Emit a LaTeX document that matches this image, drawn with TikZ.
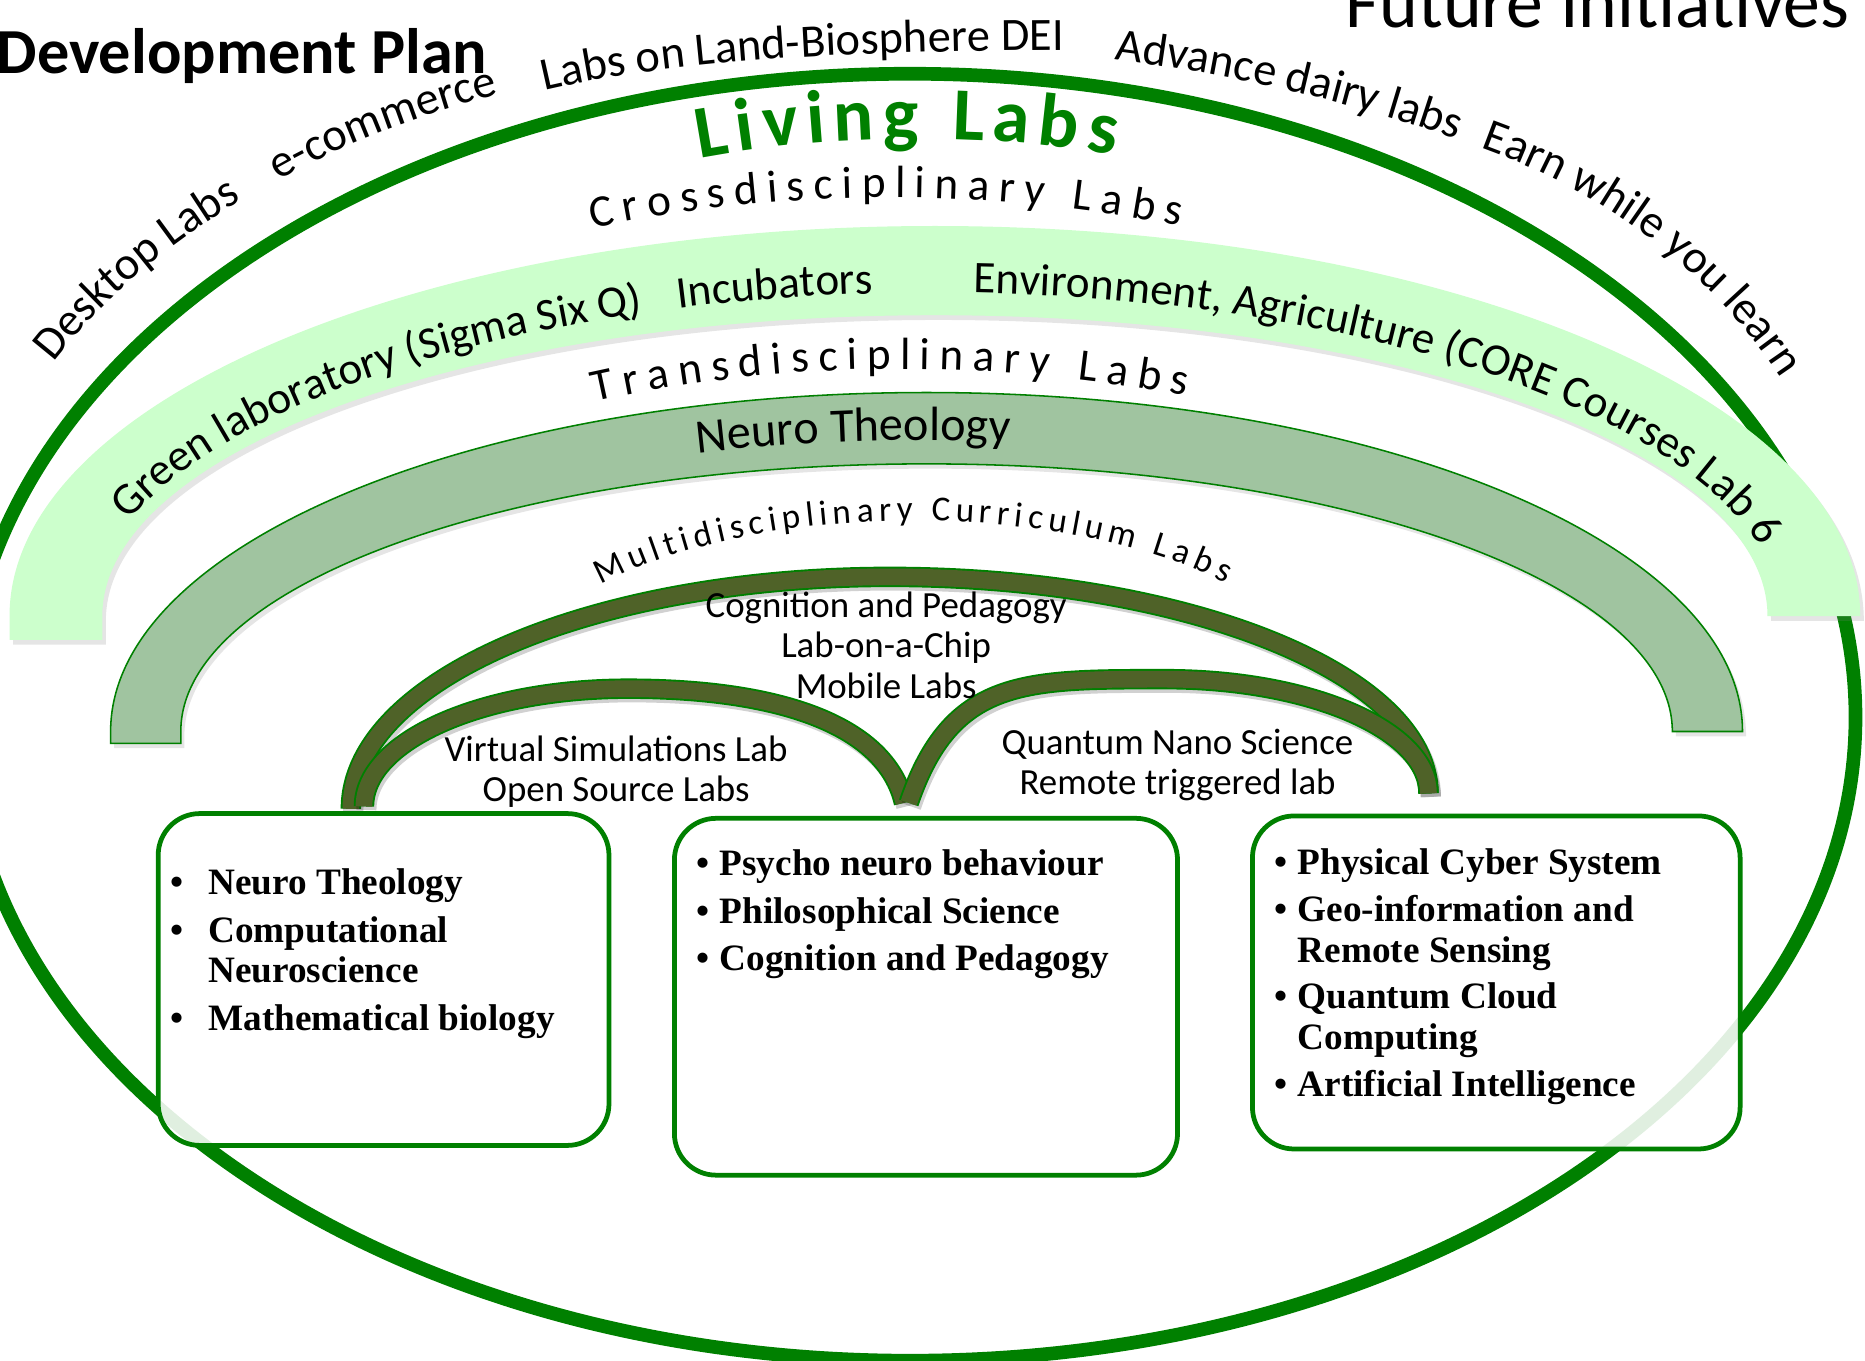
\documentclass[tikz,border=0pt]{standalone}
\usepackage{fontspec}
\setmainfont{Carlito}
\newfontfamily\tnrfont{Liberation Serif}
\usetikzlibrary{decorations.text,shadows}
\definecolor{dkgreen}{HTML}{008000}
\definecolor{lband}{HTML}{CCFFCC}
\definecolor{mband}{HTML}{A0C4A0}
\definecolor{olivearch}{HTML}{4F6228}
\newcommand\fTitle{\fontsize{54}{60}\selectfont\bfseries}
\newcommand\fBig{\fontsize{62}{70}\selectfont}
\newcommand\fOut{\fontsize{39}{44}\selectfont}
\newcommand\fBand{\fontsize{38}{44}\selectfont}
\newcommand\fNeuro{\fontsize{40.5}{44}\selectfont}
\newcommand\fLiving{\fontsize{63}{70}\selectfont\bfseries\color{dkgreen}}
\newcommand\fMulti{\fontsize{29.5}{34}\selectfont}
\newcommand\fIn{\fontsize{31}{34}\selectfont}
\newcommand\fBoxt{\tnrfont\bfseries\fontsize{31.3}{34}\selectfont}
\begin{document}
\begin{tikzpicture}[x=1pt,y=-1pt,
  pathtext/.style={decorate,decoration={text along path,text={#1}}},
  spacedtext/.style={decorate,decoration={text along path,text={#1},text align={fit to path}}},
  archline/.style={draw=dkgreen,line width=1.6pt,double=olivearch,double distance=14pt,
    preaction={draw=black,opacity=0.18,line width=17pt,transform canvas={xshift=2pt,yshift=-3pt}}},
  labbox/.style={draw=dkgreen,line width=4pt,rounded corners=35pt,fill=white,fill opacity=0.88,inner sep=0pt},
  boxtext/.style={inner sep=0pt,anchor=base west,font=\fBoxt},
  intext/.style={inner sep=0pt,anchor=base,font=\fIn},
  bandshadow/.style={drop shadow={shadow xshift=3pt,shadow yshift=-4pt,opacity=0.2}}]
\useasboundingbox (0,0) rectangle (1568,1144);
\fill[white] (0,0) rectangle (1568,1144);

% titles
\node[anchor=base west,inner sep=0pt,font=\fTitle] (title) at (-3,62) {Development Plan};
\node[anchor=base east,inner sep=0pt,font=\fBig] (future) at (1555,23) {Future Initiatives};

% outer ellipse
\draw[dkgreen,line width=11.5pt] (765,603) ellipse [x radius=795,y radius=541];

% texts outside the ellipse
\path[pathtext={|\fOut|Desktop Labs}] (45,305) .. controls (88,250) and (140,205) .. (220,158);
\path[pathtext={|\fOut|e-commerce}] (234,152) .. controls (290,120) and (350,97) .. (435,75);
\path[pathtext={|\fOut|Labs on Land-Biosphere DEI}] (458,76) .. controls (560,52) and (700,42) .. (930,42);
\path[pathtext={|\fOut|Advance dairy labs}] (937,50) .. controls (1030,62) and (1130,82) .. (1250,126);
\path[pathtext={|\fOut|Earn while you learn}] (1245,124) .. controls (1345,160) and (1440,225) .. (1505,330);

% Living labs
\path[spacedtext={|\fLiving|Living Labs}] (588,133) .. controls (700,112) and (830,112) .. (937,130);
\path[spacedtext={|\fBand|Crossdisciplinary Labs}] (498,192) .. controls (660,158) and (830,158) .. (992,190);

% light band
\fill[lband,bandshadow] (8,538) -- (8,518) arc[start angle=180,end angle=360,x radius=778,y radius=328]
  -- (1486,518) arc[start angle=360,end angle=180,x radius=700,y radius=253] -- (86,538) -- cycle;
\path[pathtext={|\fBand|Green laboratory (Sigma Six Q)}] (786,532) ++(199.2:718 and 286)
  arc[start angle=199.2,end angle=253,x radius=718,y radius=286];
\path[pathtext={|\fBand|Incubators}] (786,532) ++(252.5:718 and 286)
  arc[start angle=252.5,end angle=272,x radius=718,y radius=286];
\path[pathtext={|\fBand|Environment, Agriculture (CORE Courses Lab 6}] (786,532) ++(272.6:718 and 286)
  arc[start angle=272.6,end angle=352,x radius=718,y radius=286];

\path[spacedtext={|\fBand|Transdisciplinary Labs}] (500,338) .. controls (660,302) and (830,302) .. (997,333);

% medium band
\filldraw[fill=mband,draw=dkgreen,line width=1.3pt,bandshadow] (93,625) -- (93,615)
  arc[start angle=180,end angle=360,x radius=686,y radius=285]
  -- (1406,615) arc[start angle=360,end angle=180,x radius=627,y radius=225] -- (152,625) -- cycle;
\path[pathtext={|\fNeuro|Neuro Theology}] (779,615) ++(252.8:650 and 245)
  arc[start angle=252.8,end angle=295,x radius=650,y radius=245];

\path[spacedtext={|\fMulti|Multidisciplinary Curriculum Labs}] (505,492) .. controls (640,420) and (890,420) .. (1030,490);

% olive arches
\draw[archline] (295,680) .. controls (295,572) and (498,485) .. (748,485)
  .. controls (998,485) and (1201,567) .. (1201,667);
\draw[archline] (306,678) .. controls (306,623) and (405,579) .. (528,579)
  .. controls (656,579) and (745,610) .. (760,675);
\draw[archline] (764,675) .. controls (800,570) and (861,571) .. (980,571)
  .. controls (1102,571) and (1201,614) .. (1201,667);

% labels inside the arches
\node[intext] (cog) at (745,519) {\begin{tabular}[t]{@{}c@{}}Cognition and Pedagogy\\Lab-on-a-Chip\\Mobile Labs\end{tabular}};
\node[intext] (virt) at (518,640) {\begin{tabular}[t]{@{}c@{}}Virtual Simulations Lab\\Open Source Labs\end{tabular}};
\node[intext] (quant) at (990,634) {\begin{tabular}[t]{@{}c@{}}Quantum Nano Science\\Remote triggered lab\end{tabular}};

% boxes
\node[labbox,minimum width=379pt,minimum height=279pt] (box1) at (322.5,823.5) {};
\node[labbox,minimum width=423pt,minimum height=300pt] (box2) at (778.5,838) {};
\node[labbox,minimum width=410pt,minimum height=280pt] (box3) at (1258,826) {};

\node[boxtext] (list1) at (143,752) {\begin{tabular}[t]{@{}l@{\hspace{21pt}}l@{}}\textbullet&Neuro Theology\\[6pt]\textbullet&Computational\\&Neuroscience\\[6pt]\textbullet&Mathematical biology\end{tabular}};
\node[boxtext] (list2) at (585,736) {\begin{tabular}[t]{@{}l@{\hspace{9pt}}l@{}}\textbullet&Psycho neuro behaviour\\[6pt]\textbullet&Philosophical Science\\[6pt]\textbullet&Cognition and Pedagogy\end{tabular}};
\node[boxtext] (list3) at (1071,735) {\begin{tabular}[t]{@{}l@{\hspace{9pt}}l@{}}\textbullet&Physical Cyber System\\[6pt]\textbullet&Geo-information and\\&Remote Sensing\\[5pt]\textbullet&Quantum Cloud\\&Computing\\[6pt]\textbullet&Artificial Intelligence\end{tabular}};
\end{tikzpicture}
\end{document}
